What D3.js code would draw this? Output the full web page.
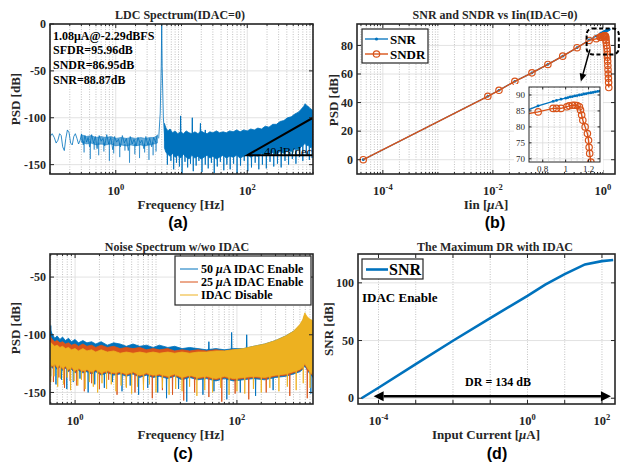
<!DOCTYPE html>
<html>
<head>
<meta charset="utf-8">
<script src="https://d3js.org/d3.v7.min.js"></script>
<style>
  body { margin: 0; background: #fff; }
  svg text { font-family: "Liberation Serif", "Times New Roman", serif; font-weight: bold; fill: #262626; }
  svg text.sub { font-family: "Liberation Sans", Arial, sans-serif; fill: #000; font-size: 16px; }
</style>
</head>
<body>
<script>
var blue = "#0072BD", orange = "#D95319", yellow = "#EDB120";

// ---- (a) LDC spectrum, IDAC = 0 ----
var aLowF = [0.1, 0.108, 0.116, 0.124, 0.132, 0.14, 0.148, 0.156, 0.165, 0.174, 0.184, 0.195, 0.206, 0.218, 0.23, 0.243, 0.257, 0.272, 0.287, 0.3];
var aLowV = [-120, -117, -121, -127, -124, -117, -119, -131, -135, -122, -113, -116, -127, -129, -120, -117, -122, -128, -124, -118];
var aPreF = [0.3, 0.36, 0.42, 0.5, 0.6, 0.7, 0.85, 1, 1.2, 1.45, 1.7, 2, 2.4, 2.8, 3.3, 3.8, 4.3];
var aPreHi = [-118, -120, -119, -121, -120, -121, -120, -122, -121, -122, -121, -122, -121, -122, -121, -121, -119];
var aPreLo = [-126, -128, -127, -129, -128, -129, -128, -130, -129, -130, -129, -130, -129, -130, -129, -128, -127];
var aNoiseF = [0.3, 0.32, 0.34, 0.36, 0.38, 0.4, 0.43, 0.46, 0.49, 0.52, 0.56, 0.6, 0.64, 0.68, 0.73, 0.78, 0.84, 0.9, 0.96, 1.03, 1.1, 1.18, 1.26, 1.35, 1.45, 1.55, 1.66, 1.78, 1.9, 2.04, 2.18, 2.34, 2.5, 2.68, 2.87, 3.07, 3.29, 3.52, 3.77, 4.03, 4.3];
var aNoiseV = [-117, -129, -119, -126, -121, -131, -118, -127, -120, -133, -119, -125, -122, -130, -118, -128, -121, -134, -120, -126, -123, -131, -119, -127, -122, -135, -120, -128, -123, -130, -121, -127, -124, -133, -120, -129, -122, -131, -121, -126, -118];
var aToneF = [4.5, 4.75, 4.92, 5.0, 5.08, 5.3, 5.6];
var aToneV = [-122, -95, -45, 0, -45, -100, -125];
var aPostF = [5.5, 5.8, 6.2, 6.7, 7.3, 8, 8.8, 9.7, 10.7, 11.8, 13, 14.4, 16, 17.8, 19.8, 22, 24.5, 27, 30, 34, 38, 43, 48, 54, 61, 69, 78, 88, 100, 113, 128, 145, 165, 188, 214, 244, 278, 316, 360, 410, 466, 530, 600, 660, 720, 760, 800, 850, 900, 950, 1000];
var aPostHi = [-106, -111, -114, -112, -116, -114, -117, -115, -117, -114, -116, -117, -115, -117, -114, -116, -117, -115, -116, -114, -116, -115, -116, -114, -115, -113, -115, -113, -114, -112, -113, -111, -112, -109, -110, -107, -107, -104, -103, -100, -99, -96, -94, -91, -88, -85, -87, -88, -90, -91, -93];
var aPostLo = [-132, -137, -139, -141, -138, -142, -140, -143, -139, -142, -144, -140, -143, -141, -144, -142, -140, -143, -141, -144, -142, -140, -143, -141, -142, -140, -143, -141, -139, -142, -140, -141, -138, -140, -139, -137, -139, -136, -138, -135, -136, -133, -134, -131, -129, -127, -130, -129, -132, -131, -134];
var aSpurF = [9.7, 14.6, 19.4, 23, 33];
var aSpurV = [-98, -100, -106, -113, -116];
var aDipF = [0.33, 0.41, 0.47, 0.55, 0.66, 0.8, 0.93, 1.15, 1.38, 1.62, 1.95, 2.3, 2.75, 3.2, 3.7, 4.1,
             6.1, 6.9, 7.6, 8.4, 9.3, 10.2, 11.3, 12.4, 13.7, 15.1, 16.7, 18.4, 20.5, 23, 25.5, 28.5, 31.5, 35, 39, 44,
             49, 55, 62, 70, 79, 90, 102, 116, 132, 150, 170, 195, 222, 253, 288, 328, 375, 425, 485, 550, 625, 700, 790, 880, 970];
var aDipV = [-137, -144, -134, -140, -136, -146, -138, -142, -135, -148, -139, -143, -137, -145, -140, -136,
             -150, -146, -155, -148, -152, -160, -147, -153, -149, -157, -151, -146, -158, -150, -154, -148, -159, -152, -147, -156,
             -150, -155, -149, -160, -151, -146, -157, -153, -148, -155, -150, -154, -147, -152, -149, -153, -146, -150, -144, -149, -142, -146, -140, -145, -143];
var aNotes = ["1.08\u03bcA@-2.29dBFS", "SFDR=95.96dB", "SNDR=86.95dB", "SNR=88.87dB"];
var aSlopeF = [100, 1000, 1000], aSlopeV = [-140, -140, -100];

// ---- (b) SNR / SNDR vs input current ----
var bSnrI = [4.4e-5, 8.1e-3, 0.0129, 0.0251, 0.0513, 0.1, 0.186, 0.339, 0.562, 0.76, 0.89, 0.92, 0.96, 1.0, 1.02, 1.04, 1.06, 1.08, 1.1, 1.12, 1.14, 1.16, 1.18, 1.2, 1.22, 1.24, 1.26, 1.28, 1.3];
var bSnr = [0, 44.4, 48.6, 54.9, 60.8, 66.7, 72.5, 78.4, 83.8, 86.6, 88.0, 88.3, 88.7, 89.0, 89.2, 89.4, 89.5, 89.7, 89.8, 90.0, 90.1, 90.3, 90.4, 90.6, 90.7, 90.8, 91.0, 91.1, 91.2];
var bSndrI = [4.4e-5, 8.1e-3, 0.0129, 0.0251, 0.0513, 0.1, 0.186, 0.339, 0.562, 0.76, 0.89, 0.92, 0.96, 1.01, 1.03, 1.06, 1.08, 1.1, 1.12, 1.13, 1.14, 1.15, 1.17, 1.19, 1.2, 1.205, 1.21, 1.22, 1.23, 1.24, 1.25, 1.26, 1.27, 1.28];
var bSndr = [0, 44.4, 48.6, 54.9, 60.8, 66.7, 72.5, 78.4, 83.5, 84.7, 85.8, 85.8, 85.8, 86.3, 86.6, 86.8, 86.8, 86.7, 86.3, 85.3, 83.7, 82.1, 80.0, 77.9, 75.8, 73.6, 71.7, 69.0, 66.0, 63.0, 60.0, 57.0, 54.0, 50.5];
var bZoomI = [0.506, 1.95], bZoomDb = [73.7, 91.9];
var bArrowI = [0.58, 0.398], bArrowDb = [77.2, 54.7];

// ---- (c) noise spectrum with / without IDAC ----
var cF = [0.49, 0.52, 0.56, 0.6, 0.65, 0.7, 0.76, 0.83, 0.9, 1, 1.1, 1.25, 1.4, 1.6, 1.8, 2.1, 2.5, 3, 3.6, 4.3, 5.2, 6.3, 7.6, 9.2, 11, 14, 17, 21, 26, 33, 42, 55, 70, 90, 120, 160, 220, 300, 400, 500, 600, 650, 690, 730, 780, 830, 870];
var cBlueHi = [-95, -99, -103, -101, -104, -102, -105, -103, -106, -104, -107, -105, -107, -106, -108, -106, -109, -107, -108, -110, -108, -110, -109, -111, -109, -111, -110, -112, -111, -112, -113, -112, -113, -112, -112, -110, -108, -105, -101, -97, -92, -88, -83, -86, -87, -88, -89];
var cBlueLo = [-126, -129, -127, -130, -128, -131, -129, -132, -130, -133, -131, -133, -132, -134, -132, -135, -133, -135, -134, -136, -134, -137, -135, -137, -136, -138, -136, -139, -137, -139, -138, -140, -138, -140, -139, -138, -139, -137, -136, -134, -132, -130, -127, -130, -133, -135, -137];
var cRedHi = [-101, -104, -106, -105, -107, -106, -108, -107, -109, -108, -110, -108, -110, -109, -111, -109, -111, -110, -112, -111, -112, -111, -113, -112, -113, -112, -114, -113, -114, -113, -114, -113, -114, -113, -113, -111, -109, -106, -102, -98, -93, -89, -83, -86, -87, -88, -89];
var cRedLo = [-125, -128, -126, -129, -127, -130, -128, -131, -129, -132, -130, -132, -131, -133, -131, -134, -132, -134, -133, -135, -133, -136, -134, -136, -135, -137, -135, -138, -136, -138, -137, -139, -137, -139, -138, -137, -138, -136, -135, -133, -131, -129, -126, -129, -132, -134, -136];
var cYelHi = [-106, -108, -110, -109, -111, -110, -112, -111, -113, -112, -114, -112, -114, -113, -115, -113, -115, -114, -116, -115, -116, -115, -116, -115, -116, -115, -116, -115, -116, -115, -115, -114, -114, -113, -112, -110, -108, -105, -101, -97, -91, -87, -81, -84, -86, -87, -88];
var cYelLo = [-124, -127, -125, -128, -126, -129, -127, -130, -128, -131, -129, -131, -130, -132, -130, -133, -131, -133, -132, -134, -132, -135, -133, -135, -134, -136, -134, -137, -135, -137, -136, -138, -136, -138, -137, -136, -137, -135, -134, -132, -130, -128, -125, -128, -131, -133, -135];
var cBlueDipF = [0.5, 0.58, 0.68, 0.79, 0.95, 1.15, 1.45, 1.75, 2.3, 2.9, 3.8, 4.8, 6.1, 7.9, 10.5, 13.5, 19, 24, 38, 52, 75, 110, 170, 280, 820];
var cBlueDipV = [-136, -143, -139, -147, -141, -138, -150, -143, -146, -141, -149, -144, -152, -146, -150, -155, -147, -158, -152, -149, -156, -150, -153, -148, -151];
var cRedDipF = [0.54, 0.63, 0.74, 0.87, 1.05, 1.3, 1.6, 2, 2.6, 3.3, 4.3, 5.5, 7, 9, 12, 16, 22, 30, 45, 65, 95, 140, 230, 450, 740];
var cRedDipV = [-141, -137, -146, -140, -144, -149, -142, -147, -139, -152, -145, -150, -143, -155, -148, -152, -157, -150, -154, -158, -151, -156, -150, -153, -155];
var cYelDipF = [0.5, 0.55, 0.61, 0.66, 0.72, 0.8, 0.88, 0.97, 1.08, 1.2, 1.33, 1.5, 1.68, 1.9, 2.15, 2.45, 2.8, 3.2, 3.7, 4.3, 5, 5.9, 7, 8.3, 10, 12, 14.5, 17.5, 21, 26, 32, 40, 50, 63, 80, 100, 125, 160, 200, 255, 330, 420, 540, 660, 800];
var cYelDipV = [-141, -136, -145, -138, -143, -137, -148, -140, -144, -139, -147, -141, -145, -150, -142, -147, -143, -149, -144, -146, -151, -145, -148, -143, -150, -146, -152, -147, -149, -145, -153, -148, -150, -146, -152, -149, -151, -147, -150, -146, -149, -145, -148, -142, -146];
var cBlueSpurF = [0.5, 45, 86, 132];
var cBlueSpurV = [-92, -106, -98, -100];
var cLegend = ["50 ", "25 ", "IDAC Disable"];

// ---- (d) maximum DR with IDAC ----
var dI = [3.5e-5, 1e-4, 1e-3, 1e-2, 1e-1, 1, 3, 10, 35, 100, 200];
var dSnr = [0, 9.1, 29.5, 49.8, 69.5, 88.7, 98.5, 107.5, 116, 118.8, 119.8];
var dArrowI = [7.4e-5, 174], dArrowDb = 1.7;

var svg = d3.select("body").append("svg").attr("width", 620).attr("height", 466);
var defs = svg.append("defs");

function logMinor(dom, majors) {
  var out = [];
  for (var k = Math.floor(Math.log10(dom[0])); k <= Math.ceil(Math.log10(dom[1])); k++)
    for (var m = 1; m < 10; m++) {
      var v = m * Math.pow(10, k);
      if (v >= dom[0] && v <= dom[1] && majors.indexOf(v) < 0) out.push(v);
    }
  return out;
}

function panel(o) {
  var x = o.x, y = o.y;
  var L = x.range()[0], R = x.range()[1], B = y.range()[0], T = y.range()[1];
  var g = svg.append("g");
  var grid = g.append("g");
  grid.selectAll(null).data(o.xDot || []).enter().append("line")
      .attr("x1", d => x(d)).attr("x2", d => x(d)).attr("y1", T).attr("y2", B)
      .attr("stroke", "#b3b3b3").attr("stroke-width", 0.8).attr("stroke-dasharray", "1,1.5");
  grid.selectAll(null).data(o.xGrid || []).enter().append("line")
      .attr("x1", d => x(d)).attr("x2", d => x(d)).attr("y1", T).attr("y2", B)
      .attr("stroke", "#dadada").attr("stroke-width", 0.8);
  grid.selectAll(null).data(o.yTicks).enter().append("line")
      .attr("x1", L).attr("x2", R).attr("y1", d => y(d)).attr("y2", d => y(d))
      .attr("stroke", "#dadada").attr("stroke-width", 0.8);
  defs.append("clipPath").attr("id", o.id).append("rect")
      .attr("x", L).attr("y", T).attr("width", R - L).attr("height", B - T);
  o.plot = g.append("g").attr("clip-path", "url(#" + o.id + ")");
  var f = g.append("g");
  var tk = o.tick || 4;
  o.xTicks.forEach(function (d) {
    f.append("line").attr("x1", x(d)).attr("x2", x(d)).attr("y1", B).attr("y2", B - tk);
    f.append("line").attr("x1", x(d)).attr("x2", x(d)).attr("y1", T).attr("y2", T + tk);
  });
  (o.xMinor || []).forEach(function (d) {
    f.append("line").attr("x1", x(d)).attr("x2", x(d)).attr("y1", B).attr("y2", B - tk / 2);
    f.append("line").attr("x1", x(d)).attr("x2", x(d)).attr("y1", T).attr("y2", T + tk / 2);
  });
  o.yTicks.forEach(function (d) {
    f.append("line").attr("x1", L).attr("x2", L + tk).attr("y1", y(d)).attr("y2", y(d));
    f.append("line").attr("x1", R).attr("x2", R - tk).attr("y1", y(d)).attr("y2", y(d));
  });
  f.selectAll("line").attr("stroke", "#262626").attr("stroke-width", 1);
  f.append("rect").attr("x", L).attr("y", T).attr("width", R - L).attr("height", B - T)
      .attr("fill", "none").attr("stroke", "#262626").attr("stroke-width", o.frame || 1.6);
  var fs = o.fs || 12;
  f.selectAll(null).data(o.yTicks).enter().append("text")
      .attr("x", L - 4).attr("y", d => y(d)).attr("dy", "0.35em").attr("text-anchor", "end")
      .style("font-size", fs + "px").style("font-weight", o.light ? "normal" : "bold").text(d => d);
  o.xLabels.forEach(function (d) {
    var t = f.append("text").attr("x", x(d)).attr("y", B + (o.xOff || 21))
        .attr("text-anchor", "middle").style("font-size", fs + "px")
        .style("font-weight", o.light ? "normal" : "bold");
    if (o.exp) {
      t.append("tspan").style("font-size", "12.5px").text("10");
      t.append("tspan").attr("dy", -5).style("font-size", "8.5px").text(Math.round(Math.log10(d)));
    } else t.text(d);
  });
  o.L = L; o.R = R; o.T = T; o.B = B; o.g = g; o.front = f;
  return o;
}

function txt(x, y, s, size, anchor) {
  return svg.append("text").attr("x", x).attr("y", y).attr("text-anchor", anchor || "middle")
      .style("font-size", size + "px").text(s);
}
function yLabel(x, y, s) {
  return svg.append("text").attr("transform", "translate(" + x + "," + y + ") rotate(-90)")
      .attr("dy", "0.35em").attr("text-anchor", "middle").style("font-size", "13px").text(s);
}
function muLabel(x, y, pre, post, size) {
  var t = svg.append("text").attr("x", x).attr("y", y).attr("text-anchor", "middle").style("font-size", size + "px");
  t.append("tspan").text(pre);
  t.append("tspan").style("font-style", "italic").text("\u03bc");
  t.append("tspan").text(post);
  return t;
}

// band drawer shared by the spectra: filled band between envelopes + downward hair spikes
function spectrum(p, F, Hi, Lo, dipF, dipV, col, op) {
  var x = p.x, y = p.y;
  var lo = d3.scaleLog().domain(F).range(Lo).clamp(true);
  p.plot.append("path")
      .attr("d", d3.area().x((d, i) => x(F[i])).y0((d, i) => y(Lo[i])).y1((d, i) => y(Hi[i]))(F))
      .attr("fill", col).attr("fill-opacity", op || 1)
      .attr("stroke", col).attr("stroke-width", 0.8).attr("stroke-opacity", op || 1);
  p.plot.selectAll(null).data(dipF).enter().append("path")
      .attr("d", (d, i) => "M" + x(d * 0.992) + "," + y(lo(d) + 2) + "L" + x(d) + "," + y(dipV[i]) +
                           "L" + x(d * 1.008) + "," + y(lo(d) + 2))
      .attr("fill", "none").attr("stroke", col).attr("stroke-width", 0.9).attr("stroke-opacity", op || 1);
}
function spurs(p, F, Hi, sF, sV, col) {
  var x = p.x, y = p.y;
  var hi = d3.scaleLog().domain(F).range(Hi).clamp(true);
  p.plot.selectAll(null).data(sF).enter().append("path")
      .attr("d", (d, i) => "M" + x(d * 0.99) + "," + y(hi(d) - 2) + "L" + x(d) + "," + y(sV[i]) +
                           "L" + x(d * 1.01) + "," + y(hi(d) - 2))
      .attr("fill", "none").attr("stroke", col).attr("stroke-width", 1);
}

// ================= (a) =================
var aDom = [0.1, 1000];
var pa = panel({
  id: "ca", x: d3.scaleLog().domain(aDom).range([50, 313]), y: d3.scaleLinear().domain([-160, 0]).range([174, 24]),
  xTicks: [1, 100], xMinor: logMinor(aDom, [1, 100]), xDot: logMinor(aDom, [1, 100]), xGrid: [1, 100],
  xLabels: [1, 100], exp: true, yTicks: [-150, -100, -50, 0]
});
pa.plot.append("path").datum(aLowF)
    .attr("d", d3.line().x(d => pa.x(d)).y((d, i) => pa.y(aLowV[i])))
    .attr("fill", "none").attr("stroke", blue).attr("stroke-width", 1).attr("stroke-opacity", 0.8);
spectrum(pa, aPreF, aPreHi, aPreLo, aDipF.filter(d => d < 4.3), aDipV.filter((d, i) => aDipF[i] < 4.3), blue, 0.6);
pa.plot.append("path").datum(aNoiseF)
    .attr("d", d3.line().x(d => pa.x(d)).y((d, i) => pa.y(aNoiseV[i])))
    .attr("fill", "none").attr("stroke", blue).attr("stroke-width", 0.9).attr("stroke-opacity", 0.85);
spectrum(pa, aPostF, aPostHi, aPostLo, aDipF.filter(d => d > 5.5), aDipV.filter((d, i) => aDipF[i] > 5.5), blue, 1);
spurs(pa, aPostF, aPostHi, aSpurF, aSpurV, blue);
pa.plot.append("path").datum(aToneF)
    .attr("d", d3.line().x(d => pa.x(d)).y((d, i) => pa.y(aToneV[i])))
    .attr("fill", "none").attr("stroke", blue).attr("stroke-width", 1).attr("stroke-opacity", 0.8);
pa.plot.append("path").datum(aSlopeF)
    .attr("d", d3.line().x(d => pa.x(d)).y((d, i) => pa.y(aSlopeV[i])).curve(d3.curveLinearClosed))
    .attr("fill", "none").attr("stroke", "#000").attr("stroke-width", 2);
svg.append("text").attr("x", 312).attr("y", 155.5).attr("text-anchor", "end")
    .style("font-size", "12.5px").style("font-weight", "normal").style("fill", "#000").text("40dB/dec");
aNotes.forEach(function (s, i) { txt(53, 39.5 + i * 14.7, s, 12, "start").style("fill", "#000"); });
txt(180, 19, "LDC Spectrum(IDAC=0)", 12);
txt(181, 209, "Frequency [Hz]", 13);
yLabel(15, 99, "PSD [dB]");
txt(178, 228, "(a)", 16).attr("class", "sub");

// ================= (b) =================
var bDom = [Math.pow(10, -4.47), Math.pow(10, 0.22)];
var pb = panel({
  id: "cb", x: d3.scaleLog().domain(bDom).range([357, 615]), y: d3.scaleLinear().domain([-10, 95]).range([174, 24]),
  xTicks: [1e-4, 1e-2, 1], xMinor: logMinor(bDom, [1e-4, 1e-2, 1]), xDot: logMinor(bDom, [1e-4, 1e-2, 1]),
  xGrid: [1e-4, 1e-2, 1], xLabels: [1e-4, 1e-2, 1], exp: true, yTicks: [0, 20, 40, 60, 80]
});
function snrMarks(p) {
  var g = p.plot;
  g.append("path").datum(bSnrI)
      .attr("d", d3.line().x(d => p.x(d)).y((d, i) => p.y(bSnr[i])))
      .attr("fill", "none").attr("stroke", blue).attr("stroke-width", 1.3);
  g.selectAll(null).data(bSnrI).enter().append("circle")
      .attr("cx", d => p.x(d)).attr("cy", (d, i) => p.y(bSnr[i])).attr("r", 1.4).attr("fill", blue);
  g.append("path").datum(bSndrI)
      .attr("d", d3.line().x(d => p.x(d)).y((d, i) => p.y(bSndr[i])))
      .attr("fill", "none").attr("stroke", orange).attr("stroke-width", 1.4);
  g.selectAll(null).data(bSndrI).enter().append("circle")
      .attr("cx", d => p.x(d)).attr("cy", (d, i) => p.y(bSndr[i])).attr("r", 3.2)
      .attr("fill", "none").attr("stroke", orange).attr("stroke-width", 1.2);
}
snrMarks(pb);
// zoom box and arrow
svg.append("rect").attr("x", pb.x(bZoomI[0])).attr("y", pb.y(bZoomDb[1]))
    .attr("width", pb.x(bZoomI[1]) - pb.x(bZoomI[0])).attr("height", pb.y(bZoomDb[0]) - pb.y(bZoomDb[1]))
    .attr("rx", 6).attr("fill", "none").attr("stroke", "#000").attr("stroke-width", 2).attr("stroke-dasharray", "4,2.5");
(function () {
  var x1 = pb.x(bArrowI[0]), y1 = pb.y(bArrowDb[0]), x2 = pb.x(bArrowI[1]), y2 = pb.y(bArrowDb[1]);
  var a = Math.atan2(y2 - y1, x2 - x1), hl = 8, hw = 3.5;
  var bx = x2 - hl * Math.cos(a), by = y2 - hl * Math.sin(a);
  svg.append("line").attr("x1", x1).attr("y1", y1).attr("x2", bx).attr("y2", by).attr("stroke", "#000").attr("stroke-width", 1.5);
  svg.append("path").attr("d", "M" + x2 + "," + y2 + "L" + (bx + hw * Math.sin(a)) + "," + (by - hw * Math.cos(a)) +
      "L" + (bx - hw * Math.sin(a)) + "," + (by + hw * Math.cos(a)) + "Z").attr("fill", "#000");
})();
// legend
var lb = svg.append("g");
lb.append("rect").attr("x", 362).attr("y", 29).attr("width", 66).attr("height", 34)
    .attr("fill", "#fff").attr("stroke", "#262626").attr("stroke-width", 1.2);
lb.append("line").attr("x1", 365).attr("x2", 388).attr("y1", 39).attr("y2", 39).attr("stroke", blue).attr("stroke-width", 1.3);
lb.append("circle").attr("cx", 376.5).attr("cy", 39).attr("r", 1.6).attr("fill", blue);
lb.append("line").attr("x1", 365).attr("x2", 388).attr("y1", 54).attr("y2", 54).attr("stroke", orange).attr("stroke-width", 1.4);
lb.append("circle").attr("cx", 376.5).attr("cy", 54).attr("r", 3.2).attr("fill", "none").attr("stroke", orange).attr("stroke-width", 1.2);
lb.append("text").attr("x", 390).attr("y", 43.5).style("font-size", "13px").style("fill", "#000").text("SNR");
lb.append("text").attr("x", 390).attr("y", 58.5).style("font-size", "13px").style("fill", "#000").text("SNDR");
// inset
svg.append("rect").attr("x", 514).attr("y", 84).attr("width", 89).attr("height", 88).attr("fill", "#fff");
var pi = panel({
  id: "ci", x: d3.scaleLinear().domain([0.68, 1.3]).range([529, 600]), y: d3.scaleLinear().domain([69, 92.5]).range([162, 87]),
  xTicks: [0.8, 1, 1.2], xDot: [0.7, 0.75, 0.85, 0.9, 0.95, 1.05, 1.1, 1.15, 1.25], xGrid: [0.8, 1, 1.2],
  xLabels: [0.8, 1, 1.2], yTicks: [70, 75, 80, 85, 90], fs: 9, light: true, tick: 2.5, frame: 1, xOff: 10
});
snrMarks(pi);
txt(495, 19, "SNR and SNDR vs Iin(IDAC=0)", 12);
muLabel(486, 209, "Iin [", "A]", 13);
yLabel(333, 100, "PSD [dB]");
txt(495, 228, "(b)", 16).attr("class", "sub");

// ================= (c) =================
var cDom = [Math.pow(10, -0.31), Math.pow(10, 2.94)];
var pc = panel({
  id: "cc", x: d3.scaleLog().domain(cDom).range([50, 313]), y: d3.scaleLinear().domain([-160, -30]).range([404, 254]),
  xTicks: [1, 100], xMinor: logMinor(cDom, [1, 100]), xDot: logMinor(cDom, [1, 100]), xGrid: [1, 100],
  xLabels: [1, 100], exp: true, yTicks: [-150, -100, -50]
});
spectrum(pc, cF, cBlueHi, cBlueLo, cBlueDipF, cBlueDipV, blue);
spurs(pc, cF, cBlueHi, cBlueSpurF, cBlueSpurV, blue);
spectrum(pc, cF, cRedHi, cRedLo, cRedDipF, cRedDipV, orange);
spectrum(pc, cF, cYelHi, cYelLo, cYelDipF, cYelDipV, yellow);
var lc = svg.append("g");
lc.append("rect").attr("x", 175).attr("y", 256).attr("width", 136).attr("height", 49)
    .attr("fill", "#fff").attr("stroke", "#262626").attr("stroke-width", 1.2);
[blue, orange, yellow].forEach(function (col, i) {
  var yy = 269 + i * 13;
  lc.append("line").attr("x1", 180).attr("x2", 198).attr("y1", yy).attr("y2", yy).attr("stroke", col).attr("stroke-width", 1);
  var t = lc.append("text").attr("x", 201).attr("y", yy + 4).style("font-size", "12px").style("fill", "#000");
  t.append("tspan").text(cLegend[i]);
  if (i < 2) {
    t.append("tspan").style("font-style", "italic").text("\u03bc");
    t.append("tspan").text("A IDAC Enable");
  }
});
txt(177, 251, "Noise Spectrum w/wo IDAC", 12);
txt(181, 439, "Frequency [Hz]", 13);
yLabel(15, 328, "PSD [dB]");
txt(183, 459, "(c)", 16).attr("class", "sub");

// ================= (d) =================
var dDom = [Math.pow(10, -4.55), Math.pow(10, 2.35)];
var dDec = [1e-4, 1e-3, 1e-2, 1e-1, 1, 10, 100];
var pd = panel({
  id: "cd", x: d3.scaleLog().domain(dDom).range([358, 615]), y: d3.scaleLinear().domain([-5, 125]).range([404, 254]),
  xTicks: dDec, xDot: dDec, xLabels: [1e-4, 1, 100], exp: true, yTicks: [0, 50, 100]
});
pd.plot.append("path").datum(dI)
    .attr("d", d3.line().x(d => pd.x(d)).y((d, i) => pd.y(dSnr[i])))
    .attr("fill", "none").attr("stroke", blue).attr("stroke-width", 2.6);
(function () {
  var x1 = pd.x(dArrowI[0]), x2 = pd.x(dArrowI[1]), yy = pd.y(dArrowDb), hl = 10, hw = 5;
  svg.append("line").attr("x1", x1 + hl).attr("x2", x2 - hl).attr("y1", yy).attr("y2", yy).attr("stroke", "#000").attr("stroke-width", 2.5);
  svg.append("path").attr("d", "M" + x1 + "," + yy + "l" + hl + "," + (-hw) + "v" + (2 * hw) + "Z").attr("fill", "#000");
  svg.append("path").attr("d", "M" + x2 + "," + yy + "l" + (-hl) + "," + (-hw) + "v" + (2 * hw) + "Z").attr("fill", "#000");
})();
txt(498, 386, "DR = 134 dB", 12).style("fill", "#000");
var ld = svg.append("g");
ld.append("rect").attr("x", 362).attr("y", 259).attr("width", 61).attr("height", 20)
    .attr("fill", "#fff").attr("stroke", "#262626").attr("stroke-width", 1.2);
ld.append("line").attr("x1", 366).attr("x2", 388).attr("y1", 269.5).attr("y2", 269.5).attr("stroke", blue).attr("stroke-width", 2.6);
ld.append("text").attr("x", 389).attr("y", 275).style("font-size", "16px").style("fill", "#000").text("SNR");
txt(362, 302, "IDAC Enable", 13, "start").style("fill", "#000");
txt(495, 251, "The Maximum DR with IDAC", 12);
muLabel(486, 439, "Input Current [", "A]", 13);
yLabel(328, 329, "SNR [dB]");
txt(497, 459, "(d)", 16).attr("class", "sub");
</script>
</body>
</html>
